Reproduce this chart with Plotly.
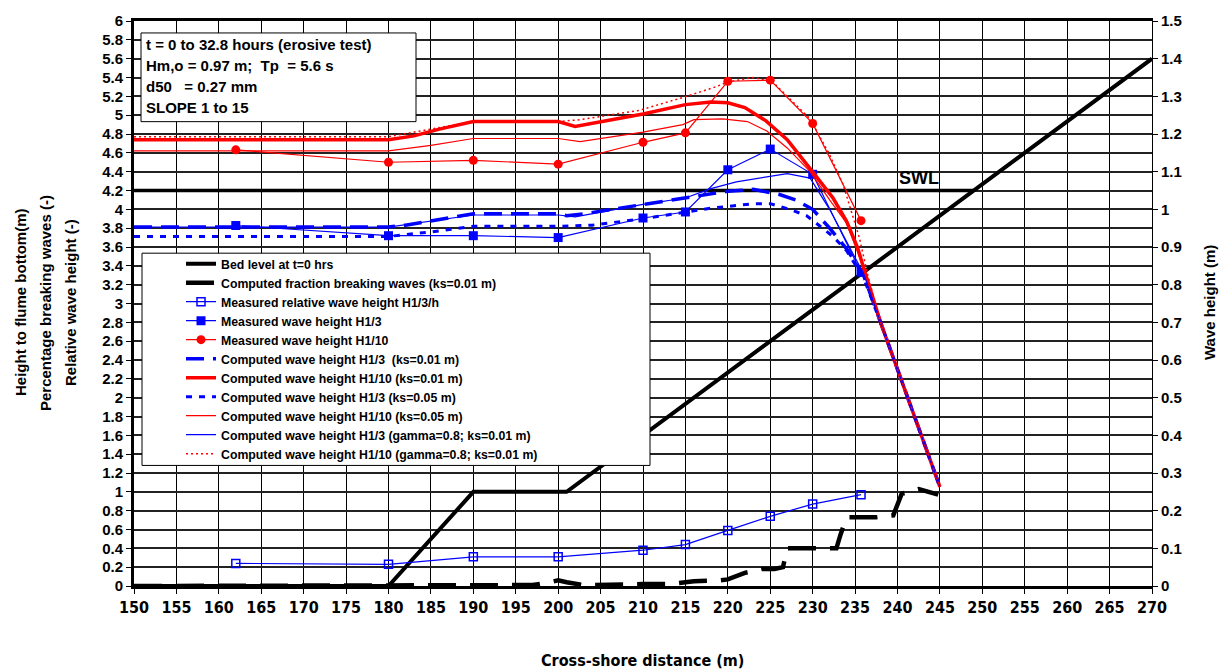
import plotly.graph_objects as go

# ---------------- data ----------------
# bed profile (m above flume bottom)
bed_x = [150, 180, 190, 201, 270]
bed_y = [0, 0, 1, 1, 5.6]

swl_x = [150, 249]
swl_y = [4.2, 4.2]

# computed fraction of breaking waves (-)
brk_x = [150, 180, 190, 197, 199, 200, 201, 203, 210, 213, 215, 216, 219, 220, 222, 224, 225.5,
         226.5, 227, 232.8, 233.3, 234, 237.5, 239.5, 240.5, 242.5, 244.8]
brk_y = [0.0, 0.0, 0.0, 0.01, 0.04, 0.06, 0.04, 0.01, 0.02, 0.02, 0.04, 0.05, 0.06, 0.07, 0.14, 0.18, 0.18,
         0.2, 0.4, 0.4, 0.55, 0.73, 0.73, 0.75, 0.98, 1.03, 0.97]

# measured stations
meas_x = [162, 180, 190, 200, 210, 215, 220, 225, 230, 235.7]
meas_rel = [0.24, 0.23, 0.31, 0.31, 0.38, 0.44, 0.59, 0.74, 0.87, 0.97]
meas_h13 = [0.957, 0.93, 0.93, 0.925, 0.977, 0.993, 1.105, 1.16, 1.093, 0.833]
meas_h110 = [1.158, 1.125, 1.13, 1.12, 1.178, 1.203, 1.34, 1.343, 1.228, 0.97]

# computed wave heights (m)
c13_001_x = [150, 180, 182, 185, 190, 200, 201, 203, 205, 210, 215, 220, 223, 226, 228, 230, 232, 234, 236, 238, 240, 242, 245]
c13_001_y = [0.953, 0.953, 0.958, 0.97, 0.988, 0.988, 0.983, 0.988, 0.995, 1.013, 1.03, 1.048, 1.053, 1.04, 1.025,
             1.0, 0.95, 0.895, 0.825, 0.7, 0.575, 0.445, 0.263]

c110_001_x = [150, 180, 183, 186, 190, 200, 202, 205, 210, 215, 218, 220, 222, 224.5, 227, 229.7, 232.4, 234, 235.3,
              236, 238, 240, 242, 245]
c110_001_y = [1.185, 1.185, 1.195, 1.213, 1.233, 1.233, 1.22, 1.233, 1.253, 1.278, 1.285, 1.283, 1.27, 1.235, 1.185,
              1.108, 1.03, 0.968, 0.898, 0.845, 0.7, 0.575, 0.45, 0.263]

c13_005_x = [150, 180, 185, 190, 200, 204, 210, 215, 218, 223, 225, 227.3, 229.3, 232.4, 234, 236, 238, 240, 242, 245]
c13_005_y = [0.928, 0.928, 0.94, 0.955, 0.955, 0.958, 0.975, 0.993, 1.003, 1.015, 1.015, 1.0, 0.983, 0.928, 0.89,
             0.818, 0.7, 0.575, 0.45, 0.263]

c110_005_x = [150, 180, 185, 190, 200, 202.6, 210, 214.7, 216, 219.4, 222.3, 224.6, 227, 229.7, 232, 234, 236, 238,
              240, 242, 245]
c110_005_y = [1.155, 1.155, 1.17, 1.188, 1.188, 1.18, 1.205, 1.225, 1.238, 1.24, 1.233, 1.208, 1.163, 1.1, 1.025,
              0.963, 0.845, 0.7, 0.575, 0.45, 0.263]

c13_g_x = [150, 180, 190, 200, 202, 210, 215, 218, 221, 224, 227, 229.7, 232, 234.8, 236, 238, 240, 242, 245]
c13_g_y = [0.953, 0.953, 0.985, 0.985, 0.98, 1.013, 1.03, 1.055, 1.073, 1.083, 1.095, 1.083, 1.0, 0.88, 0.83,
           0.7, 0.575, 0.45, 0.263]

c110_g_x = [150, 180, 190, 200, 202.6, 209.6, 214.4, 218.3, 220, 223, 225.3, 227.7, 229.7, 232, 233.6, 235.5,
            236.5, 238, 240, 242, 245]
c110_g_y = [1.193, 1.193, 1.233, 1.233, 1.238, 1.263, 1.295, 1.323, 1.338, 1.35, 1.338, 1.285, 1.24, 1.145, 1.065,
            0.925, 0.825, 0.7, 0.575, 0.45, 0.263]

info_lines = ["t = 0 to 32.8 hours (erosive test)",
              "Hm,o = 0.97 m;  Tp  = 5.6 s",
              "d50   = 0.27 mm",
              "SLOPE 1 to 15"]

left_titles = ["Height to flume bottom(m)", "Percentage breaking waves (-)", "Relative wave height (-)"]

# ---------------- figure ----------------
BLUE = "#0000FF"
RED = "#FF0000"
FONT = "Liberation Sans, Arial, sans-serif"
NARROW = "Liberation Sans Narrow, Arial Narrow, DejaVu Sans Condensed, sans-serif"

fig = go.Figure()

fig.add_trace(go.Scatter(x=swl_x, y=swl_y, mode="lines", line=dict(color="black", width=3.5),
                         showlegend=False, hoverinfo="skip"))

fig.add_trace(go.Scatter(x=bed_x, y=bed_y, mode="lines", name="Bed level at t=0 hrs",
                         line=dict(color="black", width=4)))
fig.add_trace(go.Scatter(x=brk_x, y=brk_y, mode="lines", name="Computed fraction breaking waves (ks=0.01 m)",
                         line=dict(color="black", width=4.5, dash="28px,14px")))
fig.add_trace(go.Scatter(x=meas_x, y=meas_rel, mode="lines+markers", name="Measured relative wave height H1/3/h",
                         line=dict(color=BLUE, width=1.2),
                         marker=dict(symbol="square-open", size=8, color=BLUE, line=dict(width=1.5))))
fig.add_trace(go.Scatter(x=meas_x, y=meas_h13, mode="lines+markers", name="Measured wave height H1/3",
                         yaxis="y2", line=dict(color=BLUE, width=1.2),
                         marker=dict(symbol="square", size=9, color=BLUE)))
fig.add_trace(go.Scatter(x=meas_x, y=meas_h110, mode="lines+markers", name="Measured wave height H1/10",
                         yaxis="y2", line=dict(color=RED, width=1.2),
                         marker=dict(symbol="circle", size=9, color=RED)))
fig.add_trace(go.Scatter(x=c13_001_x, y=c13_001_y, mode="lines", name="Computed wave height H1/3  (ks=0.01 m)",
                         yaxis="y2", line=dict(color=BLUE, width=3.5, dash="18px,9px")))
fig.add_trace(go.Scatter(x=c110_001_x, y=c110_001_y, mode="lines", name="Computed wave height H1/10 (ks=0.01 m)",
                         yaxis="y2", line=dict(color=RED, width=3.5)))
fig.add_trace(go.Scatter(x=c13_005_x, y=c13_005_y, mode="lines", name="Computed wave height H1/3 (ks=0.05 m)",
                         yaxis="y2", line=dict(color=BLUE, width=3, dash="6px,7px")))
fig.add_trace(go.Scatter(x=c110_005_x, y=c110_005_y, mode="lines", name="Computed wave height H1/10 (ks=0.05 m)",
                         yaxis="y2", line=dict(color=RED, width=1.2)))
fig.add_trace(go.Scatter(x=c13_g_x, y=c13_g_y, mode="lines", name="Computed wave height H1/3 (gamma=0.8; ks=0.01 m)",
                         yaxis="y2", line=dict(color=BLUE, width=1.2)))
fig.add_trace(go.Scatter(x=c110_g_x, y=c110_g_y, mode="lines", name="Computed wave height H1/10 (gamma=0.8; ks=0.01 m)",
                         yaxis="y2", line=dict(color=RED, width=1.5, dash="2px,3px")))

W, H = 1225, 672
ML, MR, MT, MB = 134, 73, 19, 86
PW, PH = W - ML - MR, H - MT - MB


def px_x(p):
    return (p - ML) / PW


def px_y(p):
    return (H - MB - p) / PH


fig.update_layout(
    width=W, height=H,
    margin=dict(l=ML, r=MR, t=MT, b=MB, pad=0),
    paper_bgcolor="white", plot_bgcolor="white",
    font=dict(family=FONT, color="black", size=13),
    xaxis=dict(range=[150, 270], dtick=5, tick0=150, showgrid=True, gridcolor="black", gridwidth=1.3,
               showline=True, linecolor="black", linewidth=3, mirror=True,
               ticks="outside", ticklen=5, tickcolor="black", tickwidth=1,
               tickfont=dict(family=NARROW, size=16, weight="bold"),
               zeroline=False),
    yaxis=dict(range=[0, 6], dtick=0.2, tick0=0, showgrid=True, gridcolor="#222", gridwidth=1.6,
               showline=True, linecolor="black", linewidth=3,
               ticks="outside", ticklen=5, tickcolor="black", tickwidth=1,
               tickfont=dict(size=15, weight="bold"), zeroline=False),
    yaxis2=dict(range=[0, 1.5], dtick=0.1, tick0=0, overlaying="y", side="right", showgrid=False,
                showline=True, linecolor="black", linewidth=1,
                ticks="outside", ticklen=5, tickcolor="black", tickwidth=1,
                tickfont=dict(size=15, weight="bold"), zeroline=False),
    legend=dict(x=px_x(181), y=px_y(248), xanchor="left", yanchor="top",
                bgcolor="rgba(0,0,0,0)", borderwidth=0,
                font=dict(size=12.3, weight="bold"), traceorder="normal"),
    showlegend=True,
)

# legend frame
fig.add_shape(type="rect", xref="paper", yref="paper",
              x0=px_x(142), x1=px_x(650), y0=px_y(465), y1=px_y(252),
              line=dict(color="black", width=1), fillcolor="white", layer="above")

# info box
fig.add_shape(type="rect", xref="paper", yref="paper",
              x0=px_x(141), x1=px_x(416), y0=px_y(120), y1=px_y(31),
              line=dict(color="black", width=1), fillcolor="white", layer="above")
for i, t in enumerate(info_lines):
    fig.add_annotation(xref="paper", yref="paper", x=px_x(144), y=px_y(43 + 21 * i),
                       text=t, showarrow=False, xanchor="left", yanchor="middle",
                       font=dict(size=15, weight="bold"))

# SWL label
fig.add_annotation(xref="x", yref="y", x=242.5, y=4.33, text="SWL", showarrow=False,
                   font=dict(size=18, weight="bold"))

# axis titles
for i, t in enumerate(left_titles):
    fig.add_annotation(xref="paper", yref="paper", x=px_x(20 + 25 * i), y=px_y(302), text=t,
                       textangle=-90, showarrow=False, xanchor="center", yanchor="middle",
                       font=dict(size=15, weight="bold"))
fig.add_annotation(xref="paper", yref="paper", x=px_x(1209), y=px_y(302), text="Wave height (m)",
                   textangle=-90, showarrow=False, xanchor="center", yanchor="middle",
                   font=dict(size=15, weight="bold"))
fig.add_annotation(xref="paper", yref="paper", x=px_x(642), y=px_y(661), text="Cross-shore distance (m)",
                   showarrow=False, xanchor="center", yanchor="middle",
                   font=dict(family=NARROW, size=16, weight="bold"))

fig.write_html("out.html")
